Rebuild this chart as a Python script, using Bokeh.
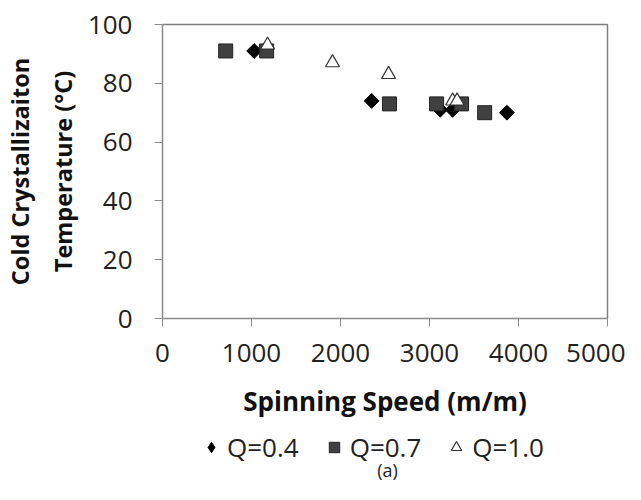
import math
from bokeh.plotting import figure
from bokeh.layouts import column
from bokeh.models import Range1d, Legend, LegendItem, Label, FixedTicker
from bokeh.embed import file_html
from bokeh.resources import INLINE

# Data
q04_speed = [1030, 2350, 3120, 3260, 3870]
q04_temp = [91, 74, 71, 71, 70]
q07_speed = [710, 1170, 2550, 3080, 3360, 3620]
q07_temp = [91, 91, 73, 73, 73, 70]
q10_speed = [1180, 1910, 2540, 3260, 3310]
q10_temp = [93, 87, 83, 74, 74]
x_ticks = [0, 1000, 2000, 3000, 4000, 5000]
y_ticks = [0, 20, 40, 60, 80, 100]
series_names = ["Q=0.4", "Q=0.7", "Q=1.0"]

FONT = "Open Sans"

styles = [
    dict(marker="square", angle=math.pi / 4, size=10.5, fill_color="black", line_color="black"),
    dict(marker="square", size=14, fill_color="#404040", line_color="#222222", line_width=1),
    dict(marker="triangle", size=14, fill_color="white", line_color="#333333", line_width=1.2),
]
# legend samples (the legend ignores marker angle, so use a diamond marker there)
legend_styles = [
    dict(marker="diamond", fill_color="black", line_color="black"),
    dict(marker="square", fill_color="#404040", line_color="#222222", line_width=1),
    dict(marker="triangle", fill_color="white", line_color="#333333", line_width=1.2),
]
series = [(q04_speed, q04_temp), (q07_speed, q07_temp), (q10_speed, q10_temp)]

p = figure(width=625, height=422,
           x_range=Range1d(0, 5000), y_range=Range1d(0, 100),
           output_backend="svg", toolbar_location=None,
           min_border_top=24, min_border_right=18, min_border_left=158,
           min_border_bottom=104)

p.grid.visible = False
p.outline_line_color = "#808080"
p.outline_line_width = 1.5
p.background_fill_color = "white"
p.border_fill_color = "white"

for ax in (p.xaxis[0], p.yaxis[0]):
    ax.axis_line_color = "#8c8c8c"
    ax.major_tick_line_color = "#8c8c8c"
    ax.minor_tick_line_color = None
    ax.major_tick_in = 0
    ax.major_tick_out = 8
    ax.major_label_text_font = FONT
    ax.major_label_text_font_size = "26px"
    ax.major_label_text_color = "#222222"
    ax.axis_label_text_font = FONT
    ax.axis_label_text_font_style = "bold"
    ax.axis_label_text_color = "#111111"

p.xaxis.axis_label_text_font_size = "26px"
p.yaxis.axis_label_text_font_size = "23.5px"
p.yaxis.axis_label_text_line_height = 1.35
p.xaxis.ticker = FixedTicker(ticks=x_ticks)
p.yaxis.ticker = FixedTicker(ticks=y_ticks)
p.xaxis.major_label_standoff = 17
p.yaxis.major_label_standoff = 22
p.xaxis.axis_label = "Spinning Speed (m/m)"
p.yaxis.axis_label = "Cold Crystallizaiton\nTemperature (°C)"
p.xaxis.axis_label_standoff = 18
p.yaxis.axis_label_standoff = 6

for (xs, ys), s in zip(series, styles):
    p.scatter(xs, ys, **s)

# Legend strip below the chart (its frame is aligned with the chart's frame);
# the sample renderers hold one real point each, outside this strip's ranges.
lg = figure(width=625, height=62, x_range=Range1d(0, 625), y_range=Range1d(0, 62),
            output_backend="svg", toolbar_location=None,
            x_axis_location=None, y_axis_location=None,
            min_border=0, outline_line_color=None)
lg.grid.visible = False
lg_renderers = [lg.scatter(x=[xs[0]], y=[ys[0]], **s)
                for (xs, ys), s in zip(series, legend_styles)]

legend = Legend(items=[LegendItem(label=n, renderers=[r])
                       for n, r in zip(series_names, lg_renderers)],
                orientation="horizontal", location=(36, 19),
                border_line_color=None, background_fill_alpha=0,
                label_text_font=FONT, label_text_font_size="26px",
                label_text_color="#222222",
                glyph_width=26, glyph_height=26, spacing=22,
                padding=0, margin=0, label_standoff=3)
lg.add_layout(legend)

lg.add_layout(Label(x=225, y=15, x_units="screen", y_units="screen",
                    text="(a)", text_font=FONT, text_font_size="18px",
                    text_align="center", text_baseline="middle",
                    text_color="#222222"))

layout = column(p, lg, spacing=0)
open("out.html", "w").write(file_html(layout, INLINE))
